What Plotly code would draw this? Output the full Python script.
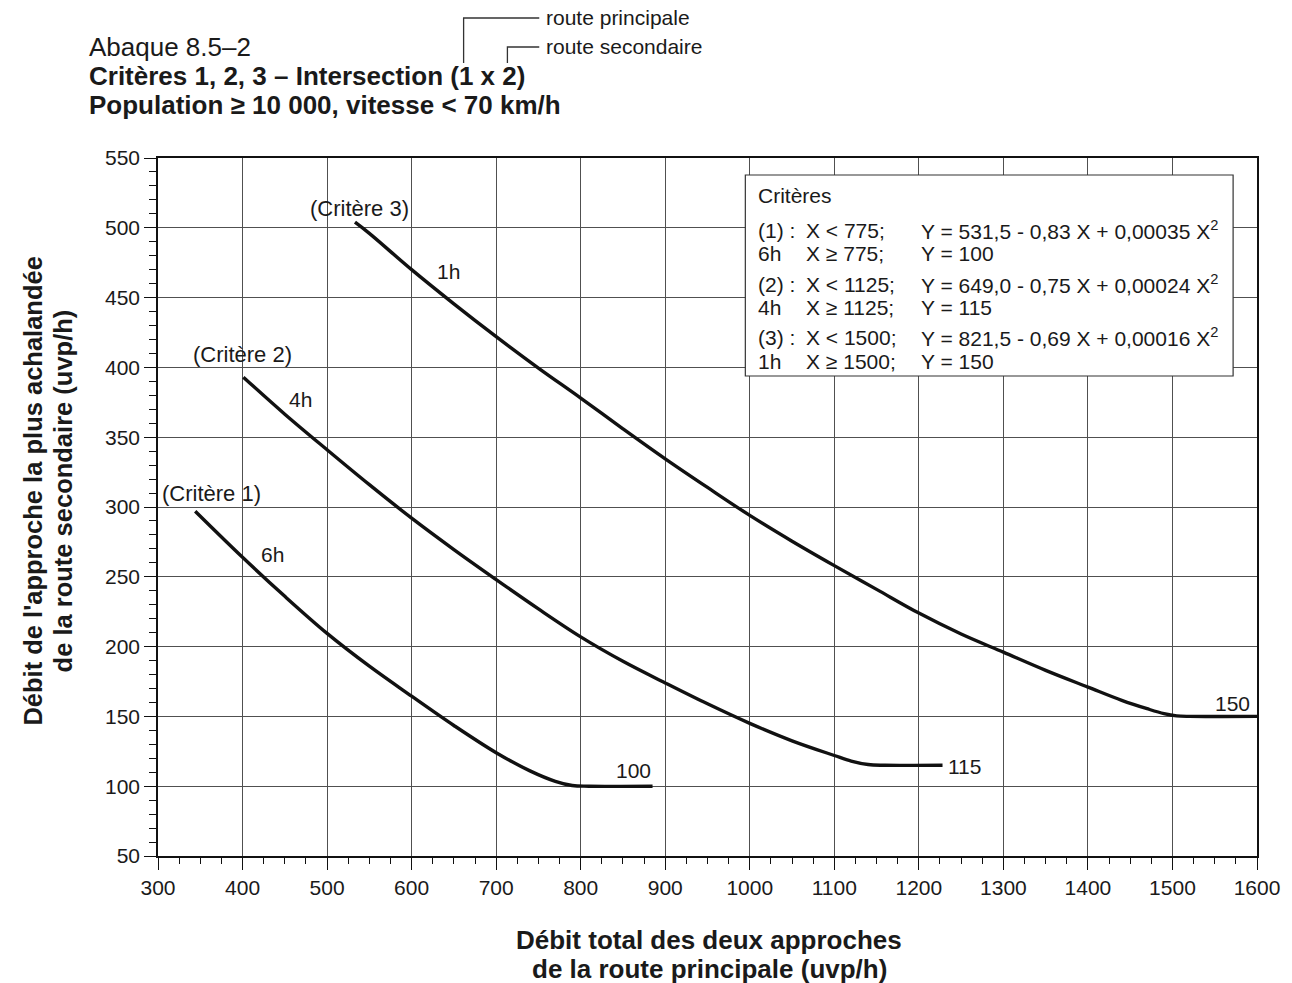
import plotly.graph_objects as go

# ---- data -------------------------------------------------------------
# Critère 1 (6h)
c1_x = [344, 400, 450, 500, 550, 600, 650, 700, 740, 770, 790, 810, 885]
c1_y = [297, 264, 236, 209.5, 186, 164.5, 143.5, 124, 111, 103.5, 100.5, 100, 100]

# Critère 2 (4h)
c2_x = [401, 450, 500, 550, 600, 650, 700, 750, 800, 850, 900, 950,
        1000, 1050, 1100, 1120, 1140, 1160, 1228]
c2_y = [393, 366.5, 341, 316, 292, 269.5, 248, 227, 207, 189.5, 174, 159,
        145, 132.5, 122, 118, 115.5, 115, 115]

# Critère 3 (1h)
c3_x = [533, 550, 600, 650, 700, 750, 800, 850, 900, 950, 1000, 1050,
        1100, 1150, 1200, 1250, 1300, 1350, 1400, 1440, 1470, 1490, 1505,
        1520, 1600]
c3_y = [504, 496, 470, 445.5, 422, 399.5, 378, 356, 334.5, 314, 294, 275.5,
        258, 241, 224, 209, 196, 183, 171, 161.5, 155.5, 152, 150.4,
        150, 150]

plateaus = [100, 115, 150]
hours = ["6h", "4h", "1h"]
criteria = ["(Critère 1)", "(Critère 2)", "(Critère 3)"]

x_ticks = list(range(300, 1601, 100))
y_ticks = list(range(50, 551, 50))

# ---- layout helpers (pixel -> paper) ------------------------------------
W, H = 1292, 983
L, R, T, B = 158, 1262, 158, 856


def px(p):
    return (p - L) / (R - L)


def py(p):
    return (B - p) / (B - T)


FONT = "Liberation Sans, Arial, Helvetica, sans-serif"
INK = "#1a1a1a"


def label(x, y, text, size, xanchor="left", angle=0, ref="paper"):
    d = dict(x=x, y=y, text=text, showarrow=False, xanchor=xanchor,
             yanchor="middle", textangle=angle,
             font=dict(size=size, color=INK, family=FONT))
    if ref == "paper":
        d.update(xref="paper", yref="paper")
    return d


fig = go.Figure()
for xs, ys in [(c1_x, c1_y), (c2_x, c2_y), (c3_x, c3_y)]:
    fig.add_trace(go.Scatter(
        x=xs, y=ys, mode="lines",
        line=dict(color="#111111", width=3.4, shape="spline", smoothing=1.0),
        showlegend=False, hoverinfo="skip"))

ann = []

# curve labels (data coordinates)
lab_pos = [
    ((363, 310), (435, 266), (862, 111), "center"),
    ((400, 409), (469, 377), (1232, 114), "left"),
    ((538, 514), (644, 469), (1571, 159), "center"),
]
for i, (cpos, hpos, ppos, anchor) in enumerate(lab_pos):
    ann.append(label(cpos[0], cpos[1], criteria[i], 22, "center", ref="data"))
    ann.append(label(hpos[0], hpos[1], hours[i], 21, "center", ref="data"))
    ann.append(label(ppos[0], ppos[1], str(plateaus[i]), 21, anchor, ref="data"))

# titles
ann.append(label(px(87), py(47), "Abaque 8.5–2", 26))
ann.append(label(px(87), py(76), "<b>Critères 1, 2, 3 – Intersection (1 x 2)</b>", 26))
ann.append(label(px(87), py(105), "<b>Population ≥ 10 000, vitesse < 70 km/h</b>", 26))
ann.append(label(px(546), py(18), "route principale", 21))
ann.append(label(px(546), py(47), "route secondaire", 21))

# axis titles, one annotation per line
ann.append(label(px(712), py(940), "<b>Débit total des deux approches</b>", 26, "center"))
ann.append(label(px(712), py(969), "<b>de la route principale (uvp/h)</b>", 26, "center"))
ann.append(label(px(32), py(491), "<b>Débit de l'approche la plus achalandée</b>",
                 25.5, "center", angle=-90))
ann.append(label(px(63), py(491), "<b>de la route secondaire (uvp/h)</b>",
                 25.5, "center", angle=-90))

# criteria box text
rows = [
    ("(1) :", "X < 775;", "Y = 531,5 - 0,83 X + 0,00035 X<sup>2</sup>"),
    ("6h", "X ≥ 775;", "Y = 100"),
    ("(2) :", "X < 1125;", "Y = 649,0 - 0,75 X + 0,00024 X<sup>2</sup>"),
    ("4h", "X ≥ 1125;", "Y = 115"),
    ("(3) :", "X < 1500;", "Y = 821,5 - 0,69 X + 0,00016 X<sup>2</sup>"),
    ("1h", "X ≥ 1500;", "Y = 150"),
]
row_y = [230, 254, 284, 307, 337, 361]
col_x = [759, 807, 922]
ann.append(label(px(759), py(195), "Critères", 21))
for ry, row in zip(row_y, rows):
    for cx, txt in zip(col_x, row):
        ann.append(label(px(cx), py(ry), txt, 21))

shapes = [
    # criteria box
    dict(type="rect", xref="paper", yref="paper",
         x0=px(748), x1=px(1238), y0=py(376), y1=py(175),
         fillcolor="white", line=dict(color="#333333", width=1.2),
         layer="above"),
    # brackets linking the title to the road names
    dict(type="path", xref="paper", yref="paper",
         path=f"M {px(465)},{py(63)} L {px(465)},{py(18)} L {px(541)},{py(18)}",
         line=dict(color="#333333", width=1.3)),
    dict(type="path", xref="paper", yref="paper",
         path=f"M {px(509)},{py(63)} L {px(509)},{py(47)} L {px(541)},{py(47)}",
         line=dict(color="#333333", width=1.3)),
]

axis_common = dict(
    showline=True, linecolor="#111111", linewidth=1.5, mirror=True,
    showgrid=True, gridcolor="#505050", gridwidth=1,
    ticks="outside", tickcolor="#111111", tickwidth=1.2, ticklen=12,
    tickfont=dict(size=21, color=INK, family=FONT),
    zeroline=False, fixedrange=True,
)

fig.update_xaxes(range=[300, 1600], tickvals=x_ticks,
                 minor=dict(dtick=25, ticks="outside", ticklen=6,
                            tickcolor="#111111", tickwidth=1, showgrid=False),
                 **axis_common)
fig.update_yaxes(range=[50, 550], tickvals=y_ticks,
                 minor=dict(dtick=10, ticks="outside", ticklen=7,
                            tickcolor="#111111", tickwidth=1, showgrid=False),
                 **axis_common)

fig.update_layout(
    width=W, height=H,
    margin=dict(l=L, r=W - R, t=T, b=H - B),
    paper_bgcolor="white", plot_bgcolor="white",
    annotations=ann, shapes=shapes,
    font=dict(family=FONT, color=INK),
    showlegend=False,
)

fig.write_html("out.html")
